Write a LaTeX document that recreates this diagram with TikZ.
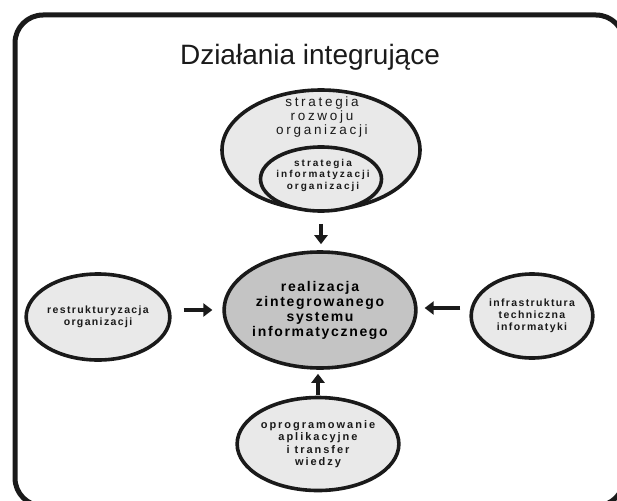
\documentclass[tikz,border=0pt]{standalone}
\usepackage{fontspec}
\setmainfont{Liberation Sans}
\usetikzlibrary{positioning, arrows.meta, shapes.geometric, calc}
\definecolor{inkblack}{HTML}{1A1A1A}
\definecolor{lightfill}{HTML}{E9E9E9}
\definecolor{corefill}{HTML}{C4C4C4}

\begin{document}
\begin{tikzpicture}[x=1pt, y=-1pt,
    blob/.style={draw=inkblack, ellipse, line width=3.6pt, inner sep=0pt, fill=#1, align=center},
    blob/.default=lightfill,
    txt/.style={font=\fontsize{10.5}{12}\selectfont\bfseries\addfontfeature{LetterSpace=13}, align=center, text=inkblack},
    push/.style={-{Triangle[length=9pt, width=13pt]}, line width=3.6pt, draw=inkblack},
]

\useasboundingbox (0,0) rectangle (617,500);
\clip (0,0) rectangle (617,500);

% Frame
\draw[inkblack, line width=5pt, rounded corners=28pt] (15,15) rectangle (624,506);

% Title
\node[font=\fontsize{28}{30}\selectfont, text=inkblack, anchor=base] (title) at (310,65) {Działania integrujące};

% Strategy ellipses
\node[blob, minimum width=198pt, minimum height=120pt] (outer) at (321,150) {};
\node[blob, minimum width=121pt, minimum height=64pt] (inner) at (321,179) {};
\node[txt, font=\fontsize{13.5}{14}\selectfont\addfontfeature{LetterSpace=20}] (outertxt) at (322,117) {strategia\\rozwoju\\organizacji};
\node[txt, font=\fontsize{10}{11.5}\selectfont\bfseries\addfontfeature{LetterSpace=20}] (innertxt) at (323,175) {strategia\\informatyzacji\\organizacji};

% Central system
\node[blob=corefill, minimum width=186pt, minimum height=116pt,
      font=\fontsize{14}{15}\selectfont\bfseries\addfontfeature{LetterSpace=12}] (core) at (320,310) {realizacja\\zintegrowanego\\systemu\\informatycznego};

% Side ellipses
\node[blob, txt, minimum width=130pt, minimum height=86pt] (restr) at (98,317) {restrukturyzacja\\organizacji};
\node[blob, txt, minimum width=120pt, minimum height=84pt] (infra) at (532,316) {infrastruktura\\techniczna\\informatyki};
\node[blob, txt, minimum width=138pt, minimum height=93pt,
      font=\fontsize{11}{12.5}\selectfont\bfseries\addfontfeature{LetterSpace=18}] (soft) at (318,444) {oprogramowanie\\aplikacyjne\\i transfer\\wiedzy};

% Arrows
\draw[push, shorten <=12pt, shorten >=6pt] (outer.south) -- (outer.south |- core.north);
\draw[push, shorten <=12pt, shorten >=10pt] (restr.east |- core.west) -- (core.west);
\draw[push, shorten <=9pt, shorten >=7pt] (infra.west |- 0,308) -- (core.east |- 0,308);
\draw[push, shorten <=1pt, shorten >=4pt] (soft.north) -- (soft.north |- core.south);

\end{tikzpicture}
\end{document}
